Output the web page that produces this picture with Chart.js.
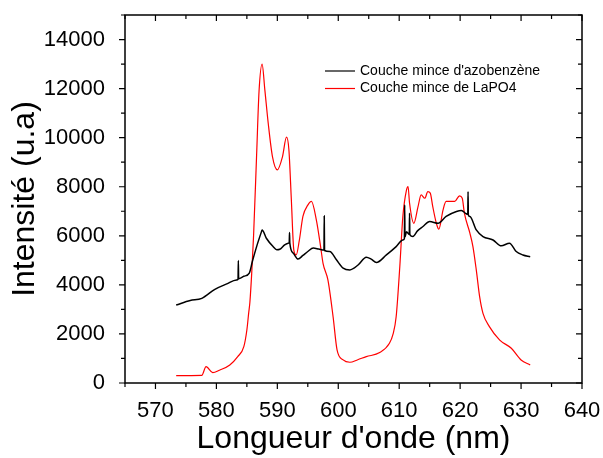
<!DOCTYPE html>
<html>
<head>
<meta charset="utf-8">
<script src="https://cdn.jsdelivr.net/npm/chart.js@4.4.0/dist/chart.umd.min.js"></script>
<style>
  body { margin: 0; background: #fff; }
  #wrap { width: 603px; height: 458px; }
</style>
</head>
<body>
<div id="wrap"><canvas id="spectre" width="603" height="458"></canvas></div>
<script>
// Couche mince d'azobenzene (noir)
var waveAzo = [573.4, 575.7, 577.6, 579.75, 581.7, 583.3, 583.55, 583.6, 583.65, 584.5, 585.4, 585.9, 586.6, 587.4,
  587.5, 588.2, 589.3, 589.9, 590.4, 591.2, 591.8, 591.95, 592.0, 592.05, 592.6, 593.4, 594.2, 595.0, 595.9,
  596.8, 597.65, 597.7, 597.75, 598.6, 599.7, 600.8, 601.9, 603.25, 604.6, 605.4, 606.25, 607.9, 609.5, 610.6,
  610.85, 610.9, 610.95, 611.2, 611.65, 611.7, 611.75, 612.25, 613.0, 613.9, 615.0, 616.4, 617.7, 619.4, 620.2,
  621.0, 621.25, 621.3, 621.35, 621.6, 622.65, 623.75, 625.4, 626.75, 628.1, 629.2, 630.3, 631.5];
var intAzo = [3180, 3360, 3450, 3820, 4040, 4200, 4230, 4990, 4250, 4350, 4480, 4950, 5560, 6170,
  6240, 5900, 5560, 5430, 5450, 5630, 5700, 5720, 6130, 5700, 5300, 5050, 5200, 5360, 5500,
  5460, 5420, 6810, 5400, 5360, 5020, 4680, 4610, 4810, 5130, 5050, 4910, 5220, 5560, 5830,
  5880, 7260, 5950, 6170, 6050, 6920, 6050, 5970, 6200, 6380, 6580, 6510, 6790, 6990, 7030,
  6900, 6880, 7800, 6850, 6790, 6240, 5970, 5830, 5590, 5700, 5360, 5220, 5150];

// Couche mince de LaPO4 (rouge)
var waveLapo = [573.4, 577.6, 578.3, 579.4, 580.5, 582.2, 583.5, 584.5, 585.0, 585.3, 585.5, 585.8, 586.1, 586.6,
  587.0, 587.5, 587.95, 588.5, 589.2, 590.0, 590.85, 591.5, 591.9, 592.3, 592.7, 593.1, 593.6, 594.2, 595.0,
  595.6, 596.4, 597.1, 597.5, 598.3, 599.15, 599.8, 600.8, 601.9, 603.2, 604.6, 606.8, 608.4, 609.0, 609.5,
  610.1, 610.6, 611.2, 611.45, 611.7, 612.4, 613.1, 613.6, 614.2, 614.7, 615.1, 615.5, 616.1, 616.5, 617.2,
  617.7, 619.1, 619.9, 620.35, 620.7, 621.6, 622.1, 622.65, 623.2, 623.75, 624.8, 626.5, 628.4, 630.0, 631.5];
var intLapo = [300, 310, 665, 420, 520, 735, 1075, 1480, 2160, 2860, 3300, 4500, 6000, 9300,
  11900, 13000, 11950, 10600, 9230, 8690, 9230, 10020, 9500, 7470, 5430, 5220, 5800, 6790, 7250,
  7400, 6650, 5560, 4880, 4200, 2700, 1350, 940, 845, 950, 1075, 1240, 1620, 2000, 2700,
  4750, 6790, 7870, 8010, 7330, 6510, 7200, 7670, 7530, 7800, 7740, 7200, 6510, 6270, 7060,
  7400, 7400, 7630, 7530, 6920, 6110, 5560, 4610, 3520, 2840, 2300, 1750, 1415, 940, 735];

var seriesNames = ["Couche mince d'azobenzène", "Couche mince de LaPO4"];
var xTicks = [570, 580, 590, 600, 610, 620, 630, 640];
var yTicks = [0, 2000, 4000, 6000, 8000, 10000, 12000, 14000];

function toPoints(xs, ys) {
  return xs.map(function (x, i) { return { x: x, y: ys[i] }; });
}

var fontFam = "'Liberation Sans', Arial, sans-serif";

// cadre, graduations (mineures/majeures) et legende
var framePlugin = {
  id: 'frame',
  afterDraw: function (chart) {
    var ctx = chart.ctx, a = chart.chartArea;
    var xs = chart.scales.x, ys = chart.scales.y;
    ctx.save();
    ctx.strokeStyle = '#000';
    ctx.lineWidth = 1.5;
    ctx.strokeRect(a.left, a.top, a.right - a.left, a.bottom - a.top);
    ctx.lineWidth = 1.2;
    ctx.beginPath();
    xs.ticks.forEach(function (t) {
      var px = xs.getPixelForValue(t.value);
      var len = t.value % 10 === 0 ? 6 : 4;
      ctx.moveTo(px, a.bottom); ctx.lineTo(px, a.bottom + len);
      ctx.moveTo(px, a.top); ctx.lineTo(px, a.top + len);
    });
    ys.ticks.forEach(function (t) {
      var py = ys.getPixelForValue(t.value);
      var len = t.value % 2000 === 0 ? 6 : 4;
      ctx.moveTo(a.left, py); ctx.lineTo(a.left - len, py);
      ctx.moveTo(a.right, py); ctx.lineTo(a.right - len, py);
    });
    ctx.stroke();

    // legende
    ctx.font = '14px ' + fontFam;
    ctx.textBaseline = 'middle';
    ctx.fillStyle = '#000';
    chart.data.datasets.forEach(function (ds, i) {
      var y = 71 + i * 17.5;
      ctx.strokeStyle = ds.borderColor;
      ctx.lineWidth = 1.2;
      ctx.beginPath();
      ctx.moveTo(325, y); ctx.lineTo(355, y);
      ctx.stroke();
      ctx.fillText(ds.label, 360, y);
    });
    ctx.restore();
  }
};

var ctx = document.getElementById('spectre').getContext('2d');
var chart = new Chart(ctx, {
  type: 'line',
  data: {
    datasets: [
      { label: seriesNames[0], data: toPoints(waveAzo, intAzo), borderColor: '#000000', borderWidth: 1.5,
        pointRadius: 0, cubicInterpolationMode: 'monotone', fill: false },
      { label: seriesNames[1], data: toPoints(waveLapo, intLapo), borderColor: '#ff0000', borderWidth: 1.2,
        pointRadius: 0, cubicInterpolationMode: 'monotone', fill: false }
    ]
  },
  options: {
    responsive: false,
    animation: false,
    layout: { padding: { left: 0, top: 15, right: 21, bottom: 0 } },
    plugins: { legend: { display: false }, tooltip: { enabled: false } },
    scales: {
      x: {
        type: 'linear', min: 565, max: 640,
        grid: { display: false },
        border: { display: false },
        ticks: {
          stepSize: 5, autoSkip: false, maxRotation: 0, padding: 7,
          color: '#000', font: { family: fontFam, size: 22 },
          callback: function (v) { return xTicks.indexOf(v) >= 0 ? String(v) : ''; }
        },
        title: { display: true, text: "Longueur d'onde (nm)", color: '#000',
          font: { family: fontFam, size: 32 }, padding: { top: 0, bottom: 0 } },
        afterFit: function (s) { s.height = 75; s.paddingLeft = 0; s.paddingRight = 0; }
      },
      y: {
        min: 0, max: 15000,
        grid: { display: false },
        border: { display: false },
        ticks: {
          stepSize: 1000, autoSkip: false, padding: 12,
          color: '#000', font: { family: fontFam, size: 22 },
          callback: function (v) { return yTicks.indexOf(v) >= 0 ? String(v) : ''; }
        },
        title: { display: true, text: 'Intensité (u.a)', color: '#000',
          font: { family: fontFam, size: 32 }, padding: { top: 6, bottom: 0 } },
        afterFit: function (s) { s.width = 125; s.paddingTop = 0; s.paddingBottom = 0; }
      }
    }
  },
  plugins: [framePlugin]
});
</script>
</body>
</html>
